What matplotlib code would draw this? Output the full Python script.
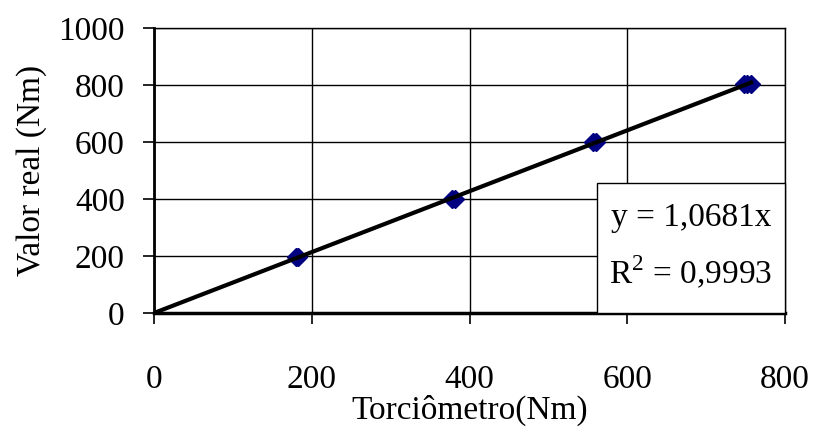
import numpy as np
import matplotlib
matplotlib.use("Agg")
import matplotlib.pyplot as plt
from matplotlib.patches import Rectangle

# Torquímetro readings vs real value
torciometro = [180, 183, 378, 382, 556, 560, 748, 752, 757]
valor_real = [195, 195, 400, 400, 600, 600, 805, 805, 805]
slope = 1.0681
r2 = 0.9993

plt.rcParams['font.family'] = ['Liberation Serif', 'DejaVu Serif']
plt.rcParams['mathtext.fontset'] = 'custom'
plt.rcParams['mathtext.rm'] = 'Liberation Serif'

fs = 24

fig = plt.figure(figsize=(8.16, 4.28), dpi=100)
ax = fig.add_axes([154 / 816, 1 - 313 / 428, 631 / 816, 285 / 428])

# trend line through origin
xs = np.array([0, max(torciometro)])
ax.plot(xs, slope * xs, color='black', lw=3, zorder=3)
ax.plot(torciometro, valor_real, linestyle='none', marker='D', ms=9,
        color='#000080', zorder=2)

ax.set_xlim(0, 800)
ax.set_ylim(0, 1000)
ax.set_xticks([0, 200, 400, 600, 800])
ax.set_yticks([0, 200, 400, 600, 800, 1000])
ax.grid(True, color='black', lw=1)
ax.set_axisbelow(True)

ax.spines['left'].set_linewidth(2)
ax.spines['bottom'].set_linewidth(2.5)
for s in ['top', 'right']:
    ax.spines[s].set_linewidth(1)

ax.tick_params(axis='both', direction='out', length=8, width=1.2,
               labelsize=fs, color='black')
ax.tick_params(axis='x', pad=29)
ax.tick_params(axis='y', pad=13)

ax.set_xlabel('Torciômetro(Nm)', fontsize=fs, labelpad=0)
ax.set_ylabel('Valor real (Nm)', fontsize=fs, labelpad=8)

# equation box
box_x0 = 0.702
box_y1 = 0.456
ax.add_patch(Rectangle((box_x0, 0), 1 - box_x0, box_y1, transform=ax.transAxes,
                       fc='white', ec='black', lw=1, zorder=5, clip_on=False))
eq = f"y = {slope:.4f}x".replace('.', ',')
rr = f"R$^2$ = {r2:.4f}".replace('.', ',')
xc = (box_x0 + 1) / 2
ax.text(xc, 0.333, eq, transform=ax.transAxes, fontsize=fs,
        ha='center', va='center', zorder=6)
ax.text(xc, 0.14, rr, transform=ax.transAxes, fontsize=fs,
        ha='center', va='center', zorder=6)

fig.savefig('out.png', dpi=100)
